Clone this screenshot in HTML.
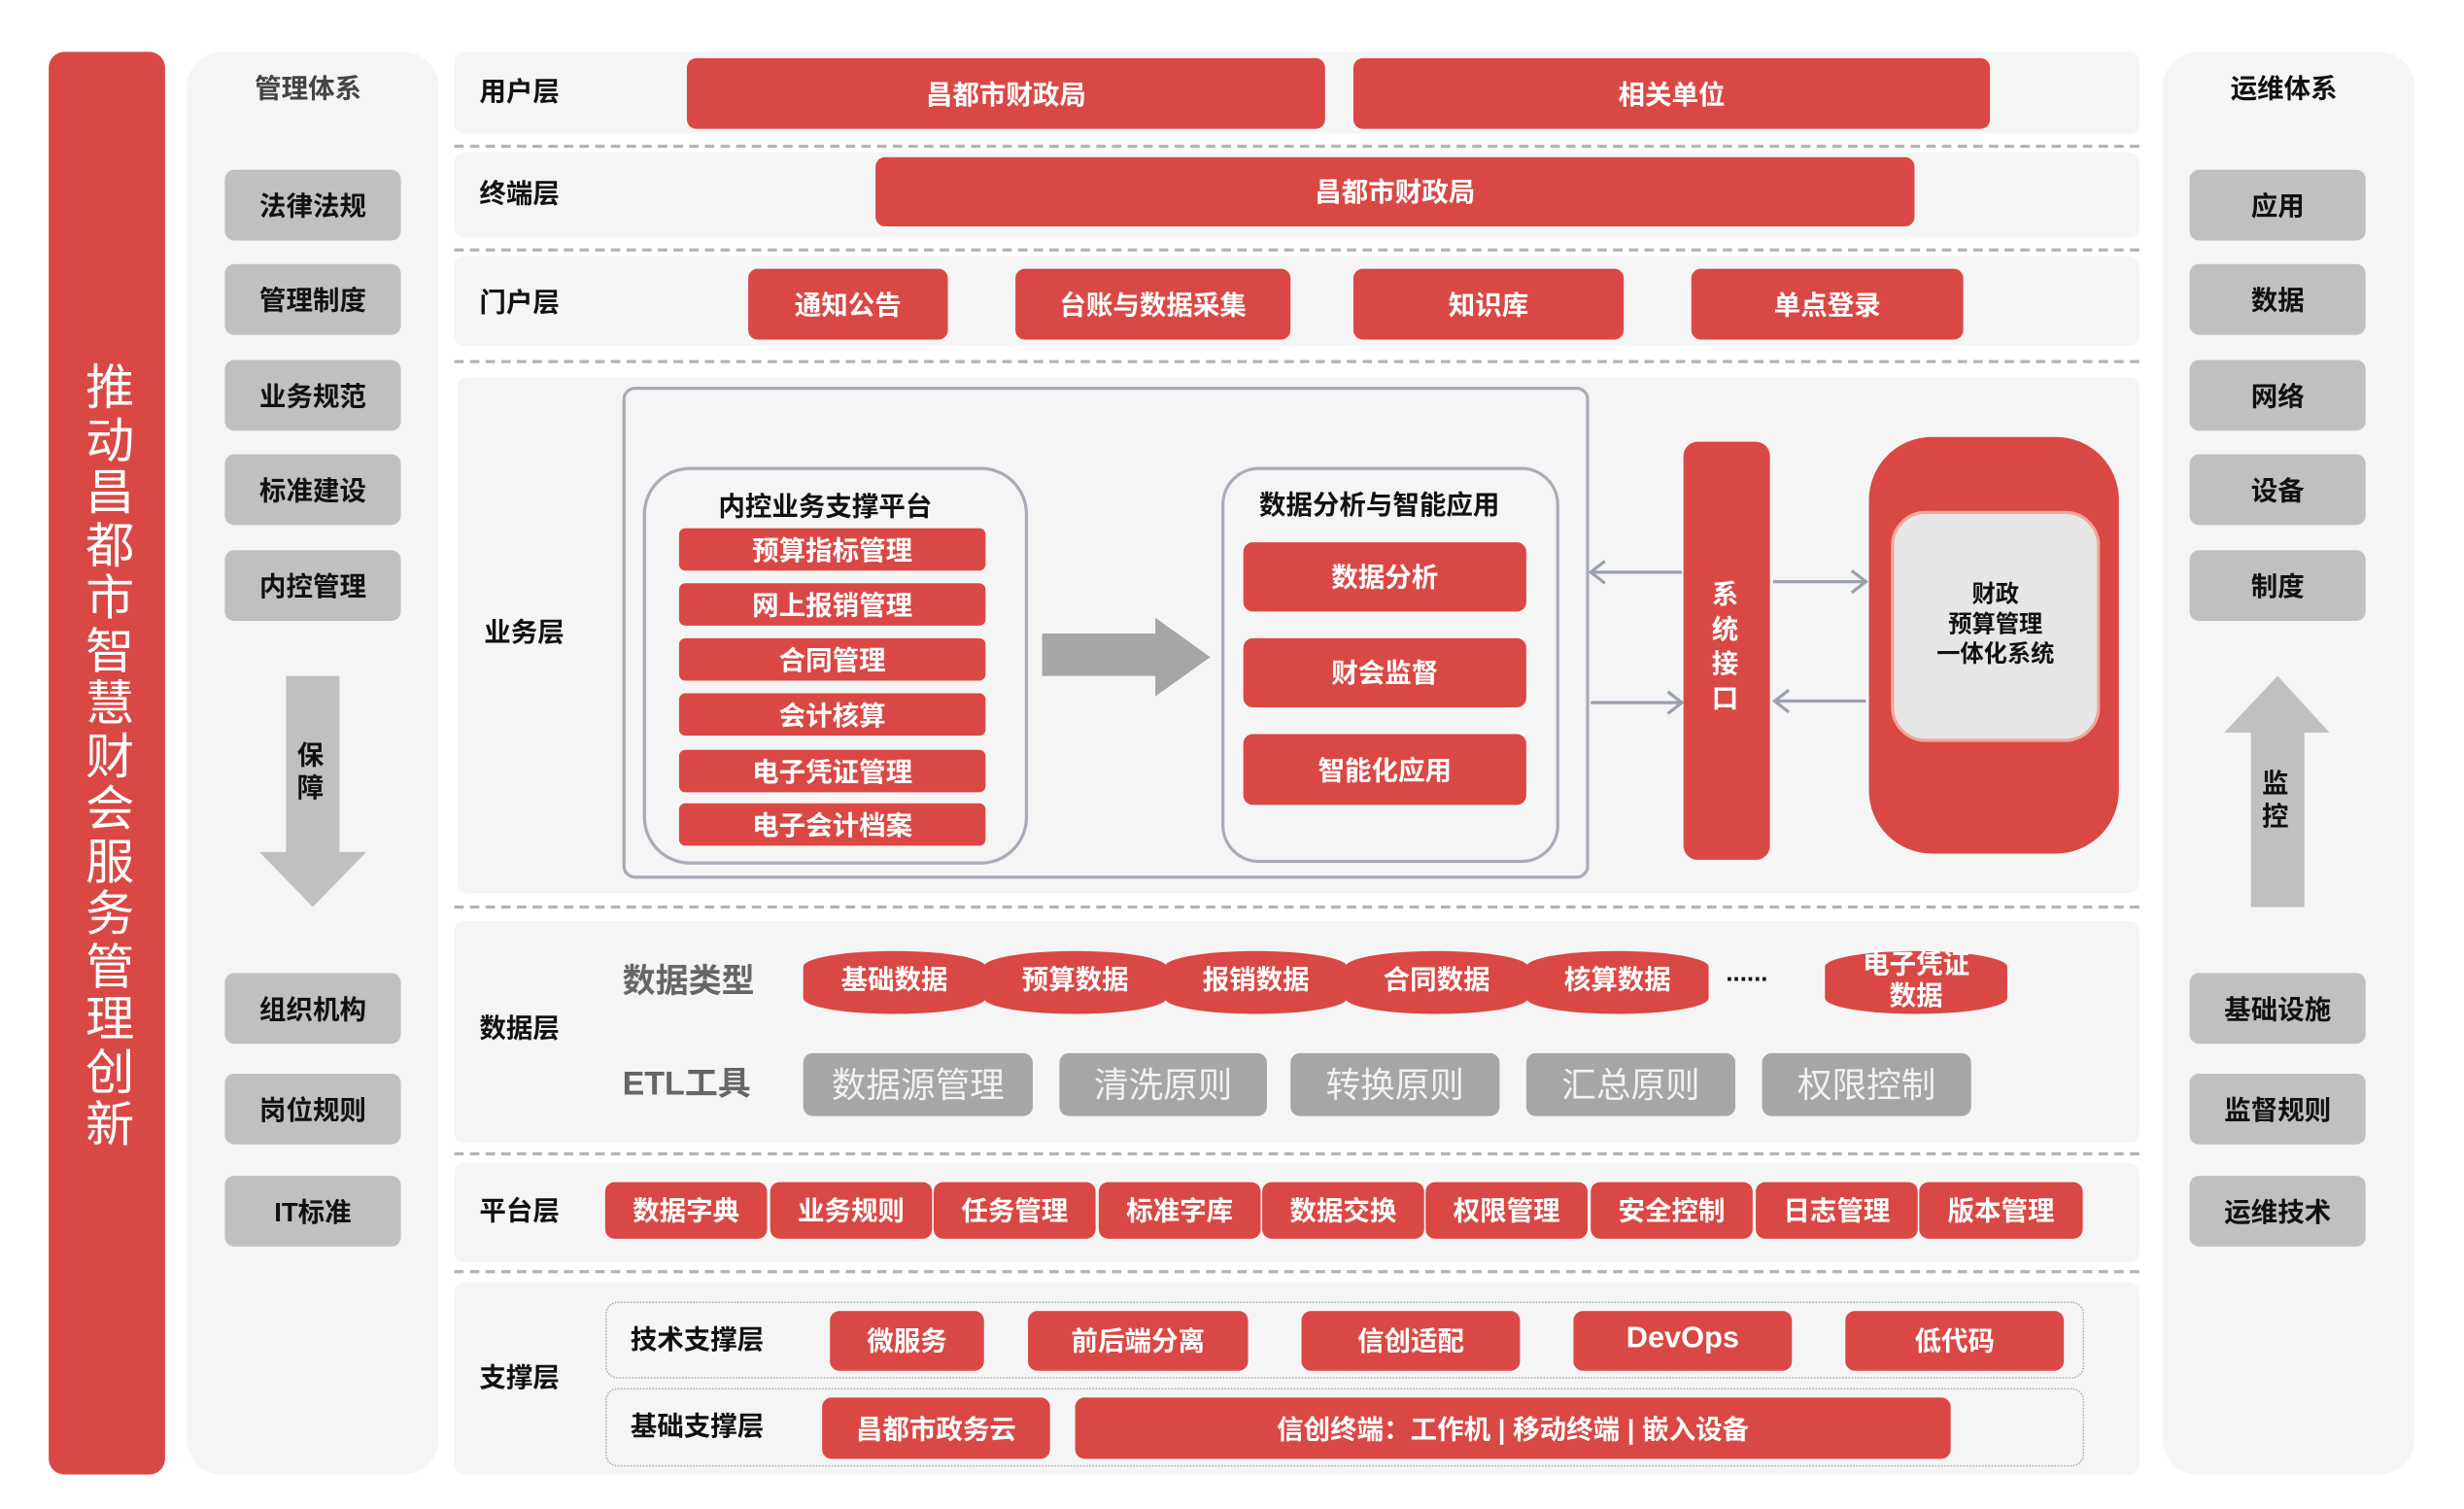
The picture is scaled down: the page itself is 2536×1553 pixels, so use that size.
<!DOCTYPE html>
<html><head><meta charset="utf-8"><style>
html,body{margin:0;padding:0;background:#fff;}
body{width:2536px;height:1550px;overflow:hidden;position:relative;}
#w{position:absolute;left:0;top:0;width:1570px;height:960px;transform:scale(1.6178);transform-origin:0 0;font-family:"Liberation Sans","Noto Sans CJK SC",sans-serif;font-weight:bold;}
.a{position:absolute;box-sizing:border-box;}
.r{position:absolute;box-sizing:border-box;background:#d94845;color:#fff;border-radius:6px;display:flex;align-items:center;justify-content:center;font-size:17px;white-space:nowrap;padding-bottom:3px;}
.g{position:absolute;box-sizing:border-box;background:#c0c0c0;color:#111;border-radius:6px;display:flex;align-items:center;justify-content:center;font-size:17px;padding-bottom:3px;}
.gy{position:absolute;box-sizing:border-box;background:#a6a6a6;color:#f2f2f2;border-radius:6px;display:flex;align-items:center;justify-content:center;font-size:22px;font-weight:normal;padding-bottom:3px;}
.row{position:absolute;background:#f5f5f5;border-radius:6px;}
.lb{position:absolute;font-size:17px;color:#111;transform:translateY(-56%);white-space:nowrap;}
.d{position:absolute;left:289px;width:1072px;border-top:2px dashed #b4b4b4;height:0;}
.p{position:absolute;box-sizing:border-box;background:#d94845;color:#fff;border-radius:50%/10px;display:flex;align-items:center;justify-content:center;font-size:17px;line-height:20px;text-align:center;padding-bottom:2px;}
</style></head><body><div id="w">
<div class="a" style="left:31px;top:33px;width:74px;height:905px;background:#d94845;border-radius:10px;"></div>
<div class="a" style="left:52px;top:230px;width:36px;color:#fff;font-size:31px;line-height:33.5px;font-weight:normal;text-align:center;">推动昌都市智慧财会服务管理创新</div>

<div class="a" style="left:119px;top:33px;width:160px;height:905px;background:#f5f5f5;border-radius:22px;"></div>
<div class="lb" style="left:162px;top:56px;color:#444;">管理体系</div>
<div class="g" style="left:143px;top:108px;width:112px;height:45px;">法律法规</div>
<div class="g" style="left:143px;top:168px;width:112px;height:45px;">管理制度</div>
<div class="g" style="left:143px;top:229px;width:112px;height:45px;">业务规范</div>
<div class="g" style="left:143px;top:289px;width:112px;height:45px;">标准建设</div>
<div class="g" style="left:143px;top:350px;width:112px;height:45px;">内控管理</div>
<div class="g" style="left:143px;top:619px;width:112px;height:45px;">组织机构</div>
<div class="g" style="left:143px;top:683px;width:112px;height:45px;">岗位规则</div>
<div class="g" style="left:143px;top:748px;width:112px;height:45px;">IT标准</div>
<svg class="a" style="left:160px;top:428px;" width="80" height="152"><polygon points="22,2 56,2 56,114 73,114 39,149 5,114 22,114" fill="#c0c0c0"/></svg>
<div class="a" style="left:189px;top:470px;width:20px;font-size:17px;line-height:21px;color:#111;">保障</div>

<div class="a" style="left:1376px;top:33px;width:160px;height:905px;background:#f5f5f5;border-radius:22px;"></div>
<div class="lb" style="left:1419px;top:56px;color:#111;">运维体系</div>
<div class="g" style="left:1393px;top:108px;width:112px;height:45px;">应用</div>
<div class="g" style="left:1393px;top:168px;width:112px;height:45px;">数据</div>
<div class="g" style="left:1393px;top:229px;width:112px;height:45px;">网络</div>
<div class="g" style="left:1393px;top:289px;width:112px;height:45px;">设备</div>
<div class="g" style="left:1393px;top:350px;width:112px;height:45px;">制度</div>
<div class="g" style="left:1393px;top:619px;width:112px;height:45px;">基础设施</div>
<div class="g" style="left:1393px;top:683px;width:112px;height:45px;">监督规则</div>
<div class="g" style="left:1393px;top:748px;width:112px;height:45px;">运维技术</div>
<svg class="a" style="left:1412px;top:428px;" width="74" height="152"><polygon points="37,2 70,38 54,38 54,149 20,149 20,38 3,38" fill="#c0c0c0"/></svg>
<div class="a" style="left:1439px;top:488px;width:20px;font-size:17px;line-height:21px;color:#111;">监控</div>

<div class="row" style="left:289px;top:33px;width:1072px;height:52px;"></div>
<div class="lb" style="left:305px;top:58px;">用户层</div>
<div class="r" style="left:437px;top:37px;width:406px;height:45px;">昌都市财政局</div>
<div class="r" style="left:861px;top:37px;width:405px;height:45px;">相关单位</div>
<div class="d" style="top:92px;"></div>
<div class="row" style="left:289px;top:97px;width:1072px;height:54px;"></div>
<div class="lb" style="left:305px;top:123px;">终端层</div>
<div class="r" style="left:557px;top:100px;width:661px;height:44px;">昌都市财政局</div>
<div class="d" style="top:158px;"></div>
<div class="row" style="left:289px;top:163px;width:1072px;height:57px;"></div>
<div class="lb" style="left:305px;top:192px;">门户层</div>
<div class="r" style="left:476px;top:171px;width:127px;height:45px;">通知公告</div>
<div class="r" style="left:646px;top:171px;width:175px;height:45px;">台账与数据采集</div>
<div class="r" style="left:861px;top:171px;width:172px;height:45px;">知识库</div>
<div class="r" style="left:1076px;top:171px;width:173px;height:45px;">单点登录</div>
<div class="d" style="top:229px;"></div>

<div class="row" style="left:291px;top:240px;width:1070px;height:328px;"></div>
<div class="lb" style="left:308px;top:402px;">业务层</div>
<div class="a" style="left:396px;top:246px;width:615px;height:313px;border:2px solid #a8acb8;border-radius:8px;"></div>
<div class="a" style="left:409px;top:297px;width:245px;height:253px;border:2px solid #a8acb8;border-radius:30px;"></div>
<div class="lb" style="left:457px;top:322px;">内控业务支撑平台</div>
<div class="r" style="left:432px;top:336px;width:195px;height:27px;border-radius:4px;">预算指标管理</div>
<div class="r" style="left:432px;top:371px;width:195px;height:27px;border-radius:4px;">网上报销管理</div>
<div class="r" style="left:432px;top:406px;width:195px;height:27px;border-radius:4px;">合同管理</div>
<div class="r" style="left:432px;top:441px;width:195px;height:27px;border-radius:4px;">会计核算</div>
<div class="r" style="left:432px;top:477px;width:195px;height:27px;border-radius:4px;">电子凭证管理</div>
<div class="r" style="left:432px;top:511px;width:195px;height:27px;border-radius:4px;">电子会计档案</div>
<svg class="a" style="left:660px;top:390px;" width="114" height="56"><polygon points="3,13 75,13 75,3 110,28 75,53 75,40 3,40" fill="#a6a6a6"/></svg>
<div class="a" style="left:777px;top:297px;width:215px;height:252px;border:2px solid #a8acb8;border-radius:24px;"></div>
<div class="lb" style="left:801px;top:321px;">数据分析与智能应用</div>
<div class="r" style="left:791px;top:345px;width:180px;height:44px;">数据分析</div>
<div class="r" style="left:791px;top:406px;width:180px;height:44px;">财会监督</div>
<div class="r" style="left:791px;top:467px;width:180px;height:45px;">智能化应用</div>
<svg class="a" style="left:1005px;top:350px;" width="190" height="110" fill="none" stroke="#9aa0ae" stroke-width="2">
<line x1="7" y1="14" x2="65" y2="14"/><polyline points="16,7 7,14 16,21"/>
<line x1="7" y1="97" x2="65" y2="97"/><polyline points="56,90 65,97 56,104"/>
<line x1="123" y1="20" x2="182" y2="20"/><polyline points="173,13 182,20 173,27"/>
<line x1="124" y1="96" x2="182" y2="96"/><polyline points="133,89 124,96 133,103"/>
</svg>
<div class="a" style="left:1071px;top:281px;width:55px;height:266px;background:#d94845;border-radius:9px;"></div>
<div class="a" style="left:1089px;top:368px;width:20px;color:#fff;font-size:17px;line-height:22px;">系统接口</div>
<div class="a" style="left:1189px;top:278px;width:159px;height:265px;background:#d94845;border-radius:40px;"></div>
<div class="a" style="left:1203px;top:325px;width:133px;height:147px;background:#e6e6e6;border:2px solid #f0a898;border-radius:22px;display:flex;align-items:center;justify-content:center;text-align:center;font-size:15px;line-height:19px;color:#111;padding-bottom:3px;">财政<br>预算管理<br>一体化系统</div>
<div class="d" style="top:576px;"></div>

<div class="row" style="left:289px;top:586px;width:1072px;height:141px;"></div>
<div class="lb" style="left:305px;top:654px;">数据层</div>
<div class="lb" style="left:396px;top:625px;font-size:21px;color:#666;">数据类型</div>
<div class="p" style="left:511px;top:605px;width:116px;height:40px;">基础数据</div>
<div class="p" style="left:626px;top:605px;width:116px;height:40px;">预算数据</div>
<div class="p" style="left:741px;top:605px;width:116px;height:40px;">报销数据</div>
<div class="p" style="left:856px;top:605px;width:116px;height:40px;">合同数据</div>
<div class="p" style="left:971px;top:605px;width:116px;height:40px;">核算数据</div>
<div class="lb" style="left:1098px;top:621px;font-size:16px;">......</div>
<div class="p" style="left:1161px;top:605px;width:116px;height:40px;">电子凭证<br>数据</div>
<div class="lb" style="left:396px;top:690px;font-size:21px;color:#666;">ETL工具</div>
<div class="gy" style="left:511px;top:670px;width:146px;height:40px;">数据源管理</div>
<div class="gy" style="left:674px;top:670px;width:132px;height:40px;">清洗原则</div>
<div class="gy" style="left:821px;top:670px;width:133px;height:40px;">转换原则</div>
<div class="gy" style="left:971px;top:670px;width:133px;height:40px;">汇总原则</div>
<div class="gy" style="left:1121px;top:670px;width:133px;height:40px;">权限控制</div>
<div class="d" style="top:733px;"></div>

<div class="row" style="left:289px;top:740px;width:1072px;height:63px;"></div>
<div class="lb" style="left:305px;top:770px;">平台层</div>
<div class="r" style="left:385px;top:752px;width:103px;height:36px;">数据字典</div>
<div class="r" style="left:490px;top:752px;width:103px;height:36px;">业务规则</div>
<div class="r" style="left:594px;top:752px;width:103px;height:36px;">任务管理</div>
<div class="r" style="left:699px;top:752px;width:103px;height:36px;">标准字库</div>
<div class="r" style="left:803px;top:752px;width:103px;height:36px;">数据交换</div>
<div class="r" style="left:907px;top:752px;width:103px;height:36px;">权限管理</div>
<div class="r" style="left:1012px;top:752px;width:103px;height:36px;">安全控制</div>
<div class="r" style="left:1117px;top:752px;width:103px;height:36px;">日志管理</div>
<div class="r" style="left:1221px;top:752px;width:104px;height:36px;">版本管理</div>
<div class="d" style="top:808px;"></div>

<div class="row" style="left:289px;top:816px;width:1072px;height:122px;"></div>
<div class="lb" style="left:305px;top:876px;">支撑层</div>
<div class="a" style="left:385px;top:828px;width:941px;height:49px;border:1.5px dotted #a8acb8;border-radius:8px;"></div>
<div class="a" style="left:385px;top:883px;width:941px;height:50px;border:1.5px dotted #a8acb8;border-radius:8px;"></div>
<div class="lb" style="left:401px;top:852px;">技术支撑层</div>
<div class="lb" style="left:401px;top:907px;">基础支撑层</div>
<div class="r" style="left:528px;top:834px;width:98px;height:38px;">微服务</div>
<div class="r" style="left:654px;top:834px;width:140px;height:38px;">前后端分离</div>
<div class="r" style="left:828px;top:834px;width:139px;height:38px;">信创适配</div>
<div class="r" style="left:1001px;top:834px;width:139px;height:38px;font-size:19px;">DevOps</div>
<div class="r" style="left:1174px;top:834px;width:139px;height:38px;">低代码</div>
<div class="r" style="left:523px;top:889px;width:145px;height:39px;">昌都市政务云</div>
<div class="r" style="left:684px;top:889px;width:557px;height:39px;">信创终端：工作机 | 移动终端 | 嵌入设备</div>
</div></body></html>
